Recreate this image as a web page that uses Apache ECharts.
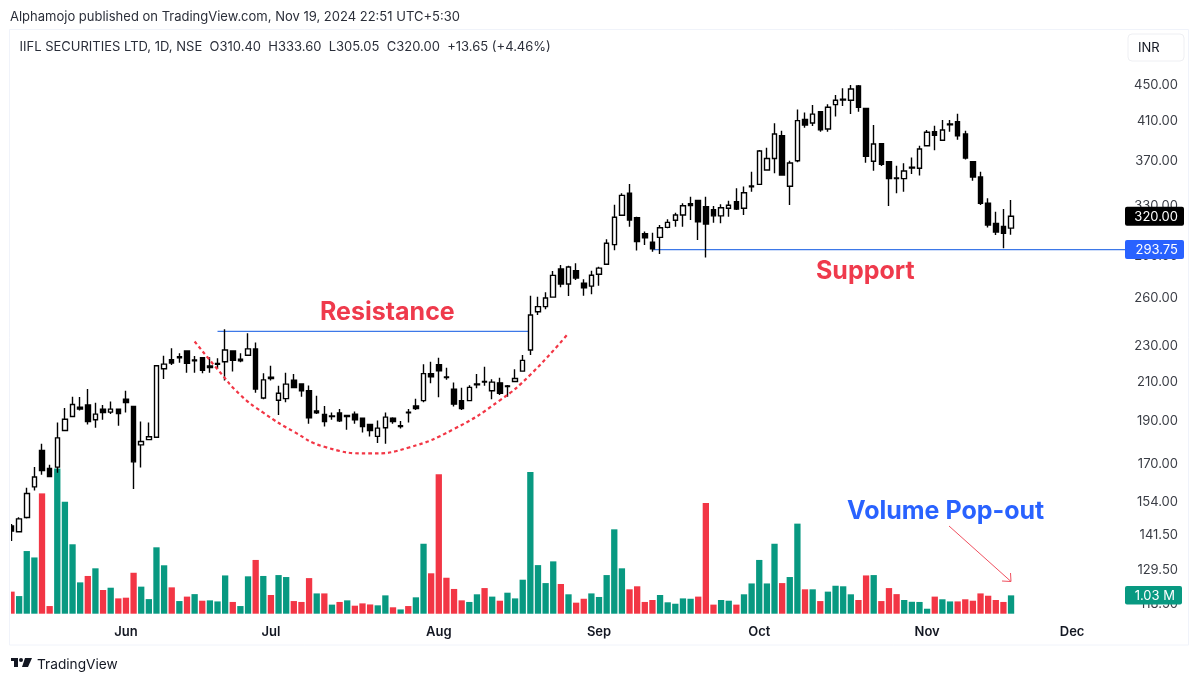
<!DOCTYPE html>
<html><head><meta charset="utf-8">
<style>html,body{margin:0;padding:0;background:#fff}#c{width:1200px;height:683px}</style>
<script src="https://cdn.jsdelivr.net/npm/echarts@6/dist/echarts.min.js"></script>
</head><body><div id="c"></div>
<script>
const opens=[144.4,142.3,147.6,159.7,175.3,167.4,168.0,184.6,191.3,196.0,197.1,189.7,195.0,193.5,195.0,200.0,196.3,177.9,180.3,181.4,216.3,221.4,223.1,226.4,221.2,222.5,217.8,219.3,220.2,226.4,221.6,223.9,227.6,200.6,211.6,199.5,200.3,210.0,208.0,204.4,194.1,192.3,191.6,193.1,191.8,192.5,190.5,187.4,181.8,185.9,190.5,186.8,193.5,196.6,199.3,213.6,218.6,211.8,205.2,199.3,199.3,207.5,209.0,204.4,208.6,207.0,209.3,215.0,227.0,250.4,253.7,260.0,279.4,268.9,278.2,269.4,267.4,275.7,282.9,297.5,320.8,339.4,318.8,306.0,299.3,303.1,311.0,316.7,321.0,330.4,333.3,327.9,325.4,320.3,326.6,332.2,326.6,345.8,347.3,360.3,371.2,393.5,345.6,369.0,410.4,406.6,418.6,400.3,426.2,431.3,431.0,447.1,422.1,368.5,385.5,368.1,353.0,352.4,362.2,362.0,383.5,397.6,388.9,404.8,407.9,395.2,368.1,353.9,330.8,314.2,311.8,310.4];
const closes=[142.6,147.1,157.0,163.8,166.5,164.0,181.1,190.0,197.3,195.0,188.9,192.5,193.3,195.0,192.8,198.3,170.3,179.4,181.6,218.0,218.9,219.5,222.4,219.3,220.8,215.4,216.9,218.8,227.0,221.0,220.8,227.6,205.3,210.2,210.9,203.1,207.9,206.1,204.4,190.7,193.1,188.9,191.3,189.2,191.3,189.7,186.5,184.6,185.7,191.0,188.9,186.5,193.1,195.3,213.6,211.8,215.2,211.4,197.5,195.3,206.2,208.0,209.3,209.0,203.1,206.6,210.9,221.0,248.3,253.7,259.4,274.9,268.9,280.9,273.1,266.2,275.0,280.1,298.5,319.1,337.6,316.9,299.8,302.8,294.4,310.7,315.0,321.0,328.7,329.0,315.5,313.6,320.3,327.1,329.1,326.0,339.9,345.1,378.3,371.2,395.2,355.8,366.9,409.0,404.4,415.9,399.6,423.3,431.0,432.1,443.6,423.3,373.2,385.2,365.7,352.4,352.4,359.4,362.9,380.3,397.0,393.9,399.3,405.5,393.3,371.6,353.9,330.8,312.9,307.3,306.35,320.0];
const lows=[139.0,142.1,147.2,158.2,164.7,163.8,165.6,184.4,191.3,194.3,187.4,185.9,189.7,192.5,186.8,193.3,158.8,167.8,180.2,181.4,210.7,218.4,219.7,214.1,214.1,213.8,214.1,216.2,209.8,214.7,219.9,223.9,203.4,200.0,209.8,192.1,198.5,205.7,201.3,187.8,192.6,186.5,189.7,188.6,184.9,187.8,183.6,181.8,178.7,178.4,187.8,185.5,188.4,194.6,198.5,208.4,201.0,210.2,196.3,194.6,199.2,205.7,207.0,200.0,202.2,201.3,209.0,215.0,224.1,248.3,252.0,259.6,266.6,260.7,271.7,260.9,261.9,267.7,282.6,293.2,320.4,311.5,293.0,297.2,292.1,290.4,310.2,311.5,311.5,316.9,301.1,287.9,314.7,314.2,319.6,325.2,321.0,340.8,347.3,359.7,357.3,355.8,329.4,367.6,401.6,403.4,397.6,397.6,413.3,424.7,416.0,418.6,367.2,359.7,364.0,328.5,339.4,340.8,356.6,355.2,383.3,379.0,388.5,397.6,389.5,370.3,350.6,329.4,310.8,305.0,294.7,305.05];
const highs=[145.2,147.7,159.3,168.1,178.4,169.0,188.4,195.6,201.3,201.1,205.3,198.2,197.1,198.8,195.0,204.4,196.3,188.9,188.4,218.0,223.7,228.0,225.1,226.4,223.5,222.5,222.8,222.2,239.4,226.4,225.1,237.0,231.3,213.8,218.0,207.0,214.1,213.4,208.0,207.2,201.8,196.6,193.3,195.1,191.8,193.8,190.5,187.4,189.4,193.3,191.0,189.1,195.1,200.3,218.8,220.2,222.5,216.9,208.8,206.0,207.3,213.4,217.4,210.6,211.4,207.4,216.0,224.1,260.9,260.2,263.2,278.0,282.3,281.8,283.6,272.2,278.2,281.1,301.6,329.6,339.4,347.6,319.6,307.6,306.8,312.8,317.5,322.9,330.8,336.4,333.3,336.4,328.5,330.0,333.0,343.8,345.4,358.7,379.3,381.5,406.2,398.6,369.0,421.0,417.6,425.8,418.6,426.6,436.9,444.4,448.3,448.3,422.8,404.4,385.5,368.1,364.3,366.6,372.2,383.5,399.3,403.7,409.7,409.7,416.3,398.6,368.1,358.7,335.1,323.8,326.0,333.6];
const volumes=[1.24,.99,3.52,3.16,6.76,.43,8.16,6.29,3.90,1.76,2.12,2.55,1.33,1.46,.86,.90,2.30,1.52,.82,3.73,2.72,1.48,.71,.96,1.10,.73,.75,.69,2.15,.66,.43,2.10,3.02,2.12,1.05,2.17,2.06,.71,.66,2.00,1.14,1.14,.51,.66,.75,.45,.58,.52,.47,1.03,.36,.24,.43,.92,3.93,2.27,7.83,2.02,1.39,.75,.66,1.09,1.44,.96,.73,1.18,.86,1.91,7.96,2.73,1.72,2.94,1.67,1.09,.62,.84,1.14,.94,2.17,4.74,2.55,1.37,1.54,.66,.77,1.05,.64,.56,.86,.84,.96,6.22,.51,.77,.73,.51,1.09,1.70,3.02,1.70,3.93,1.72,2.06,5.06,1.37,1.37,.71,1.24,1.57,1.54,1.09,.77,2.15,2.17,.71,1.44,1.10,.77,.67,.66,.28,.96,.81,.69,.69,.81,.73,1.14,1.01,.77,.66,1.03];
const volumeUp=[0,1,1,1,0,0,1,1,1,1,0,1,0,1,0,0,0,1,1,1,1,0,1,0,1,0,1,1,1,0,1,1,0,1,0,1,1,0,0,0,1,0,1,0,1,0,0,0,1,1,0,1,0,1,1,0,0,0,0,0,1,1,0,1,0,1,1,1,1,1,1,1,0,1,0,0,1,1,1,1,1,0,0,0,0,1,1,1,1,1,0,0,0,1,1,0,1,1,1,1,1,0,1,1,0,1,0,1,1,1,1,0,0,1,0,0,0,1,1,1,1,0,1,1,0,0,0,0,0,0,0,1];
const monthNames=['Jun','Jul','Aug','Sep','Oct','Nov','Dec'];
const monthIndex=[15,34,56,77,98,120,139];
const priceTicks=[450,410,370,330,290,260,230,210,190,170,154,141.5,129.5,118.5];
const resistanceLevel=[[27,238.1],[68,238.1]];
const supportLevel=[[84,293.75],[146,293.75]];
const cupCurve=[[24,232],[27,216],[30,202.2],[33,193.2],[37,184],[41,177],[47,174],[52,176.6],[58,185.3],[64,199.4],[68,213],[73,237]];
const lastClose=320.00, supportTag=293.75, lastVolume=1.03;

const UP='#089981',DOWN='#f23645',FONT='Inter, "Noto Sans", sans-serif';
const categories=[];
for(let i=0;i<147;i++){const k=monthIndex.indexOf(i);categories.push(k>=0?monthNames[k]:'');}
const candle=opens.map((o,i)=>[o,closes[i],lows[i],highs[i]]);
const bars=volumes.map((v,i)=>({value:v,itemStyle:{color:volumeUp[i]?UP:DOWN}}));
const chart=echarts.init(document.getElementById('c'),null,{renderer:'canvas'});
const txt=(x,y,text,font,fill,extra)=>({type:'text',z:50,style:Object.assign({x,y,text,font,fill,textVerticalAlign:'middle'},extra||{})});
chart.setOption({
 animation:false,backgroundColor:'#fff',
 grid:{left:11.5,top:32,width:1114,height:581.7,containLabel:false},
 xAxis:{type:'category',data:categories,boundaryGap:false,axisLine:{show:false},axisTick:{show:false},splitLine:{show:false},
   axisLabel:{interval:0,hideOverlap:false,margin:12,color:'#131722',fontFamily:FONT,fontWeight:600,fontSize:13}},
 yAxis:[
  {type:'log',min:115.3,max:513.6,position:'right',axisLine:{show:false},axisTick:{show:false},splitLine:{show:false},minorTick:{show:false},
   axisLabel:{customValues:priceTicks,align:'right',margin:52.5,verticalAlign:'top',lineHeight:3,color:'#3a3d45',fontFamily:FONT,fontSize:13,formatter:v=>Number(v).toFixed(2),showMinLabel:true,showMaxLabel:true}},
  {type:'value',min:0,max:32.68,show:false,splitLine:{show:false}}
 ],
 series:[
  {name:'Volume',type:'bar',yAxisIndex:1,data:bars,barWidth:6.3,z:1,silent:true},
  {name:'Price',type:'candlestick',yAxisIndex:0,data:candle,barWidth:5,z:3,
   itemStyle:{color:'#ffffff',color0:'#000000',borderColor:'#000000',borderColor0:'#000000',borderWidth:1.4}},
  {name:'Resistance',type:'line',yAxisIndex:0,data:resistanceLevel,showSymbol:false,symbol:'none',z:2,lineStyle:{color:'#3d78e8',width:1.2}},
  {name:'Support',type:'line',yAxisIndex:0,data:supportLevel,showSymbol:false,symbol:'none',z:2,lineStyle:{color:'#3d78e8',width:1.2}},
  {name:'Cup',type:'line',yAxisIndex:0,data:cupCurve,smooth:0.5,showSymbol:false,symbol:'none',z:4,lineStyle:{color:'#f23645',width:2.2,type:[3.5,3]}}
 ]
});
const yP=chart.convertToPixel({yAxisIndex:0},lastClose);
const yS=chart.convertToPixel({yAxisIndex:0},supportTag);
const yV=chart.convertToPixel({yAxisIndex:1},lastVolume);
const tag=(y,h,text,fill,w,tx)=>[
 {type:'rect',z:40,shape:{x:1125,y:y-h/2,width:w,height:h,r:2},style:{fill}},
 txt(tx,y+1,text,'13px '+FONT,'#fff',{textAlign:'right'})];
chart.setOption({graphic:[
 {type:'rect',z:20,silent:true,shape:{x:0,y:30,width:11,height:615},style:{fill:'#fff'}},
 {type:'rect',z:21,silent:true,shape:{x:9.5,y:29.5,width:1179,height:615.5},style:{fill:'none',stroke:'#f0f3fa',lineWidth:1}},
 {type:'rect',z:30,shape:{x:1128,y:34,width:56,height:27,r:4},style:{fill:'#fff',stroke:'#eeeff3',lineWidth:1}},
 txt(1138,48,'INR','13px '+FONT,'#131722'),
 txt(10,17.5,'Alphamojo published on TradingView.com, Nov 19, 2024 22:51 UTC+5:30','13px '+FONT,'#2a2e39'),
 txt(19.5,47,'IIFL SECURITIES LTD, 1D, NSE  O310.40  H333.60  L305.05  C320.00  +13.65 (+4.46%)','13px '+FONT,'#2a2e39'),
 ...tag(yP,19,'320.00','#000',59,1178),
 ...tag(yS,19,'293.75','#2962ff',59,1178),
 ...tag(yV,18.5,'1.03 M',UP,57,1175),
 txt(320,312,'Resistance','bold 25px '+FONT,'#ef3a4c'),
 txt(816,271,'Support','bold 25px '+FONT,'#ef3a4c'),
 txt(847,511,'Volume Pop-out','bold 25px '+FONT,'#2962ff'),
 {type:'polyline',z:50,shape:{points:[[949,526],[1011,581.5]]},style:{stroke:'#f0505f',lineWidth:1,fill:'none'}},
 {type:'polyline',z:50,shape:{points:[[1002,581],[1011,581.5],[1010.5,573]]},style:{stroke:'#f0505f',lineWidth:1,fill:'none'}},
 {type:'rect',z:50,shape:{x:11,y:658,width:7,height:3},style:{fill:'#131722'}},
 {type:'rect',z:50,shape:{x:14,y:658,width:4,height:9},style:{fill:'#131722'}},
 {type:'circle',z:50,shape:{cx:21,cy:660,r:2},style:{fill:'#131722'}},
 {type:'polygon',z:50,shape:{points:[[25,658],[32,658],[28,667],[22,667]]},style:{fill:'#131722'}},
 txt(37,664.5,'TradingView','13.7px '+FONT,'#131722')
]});
</script></body></html>
